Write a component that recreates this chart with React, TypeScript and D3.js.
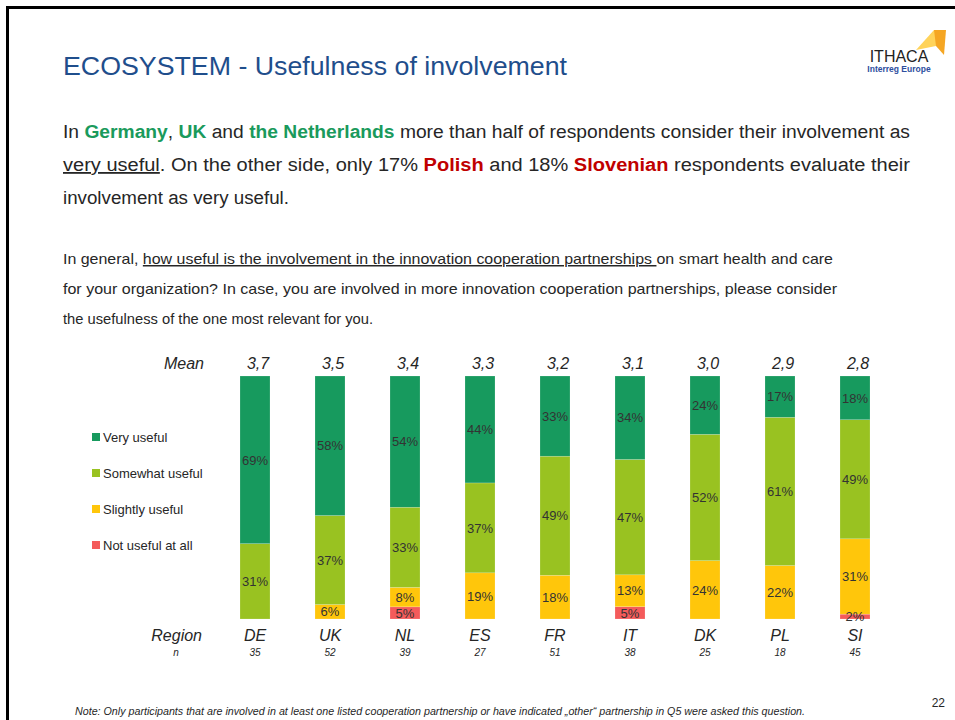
import * as d3 from "d3";

const regions = ["DE", "UK", "NL", "ES", "FR", "IT", "DK", "PL", "SI"];
const nValues = [35, 52, 39, 27, 51, 38, 25, 18, 45];
const means = ["3,7", "3,5", "3,4", "3,3", "3,2", "3,1", "3,0", "2,9", "2,8"];

const categories = ["Not useful at all", "Slightly useful", "Somewhat useful", "Very useful"];
const notUseful = [0, 0, 5, 0, 0, 5, 0, 0, 2];
const slightlyUseful = [0, 6, 8, 19, 18, 13, 24, 22, 31];
const somewhatUseful = [31, 37, 33, 37, 49, 47, 52, 61, 49];
const veryUseful = [69, 58, 54, 44, 33, 34, 24, 17, 18];

const colors = ["#F45B5B", "#FFC60B", "#99C221", "#179A5E"];

const sans = "'Liberation Sans', Arial, sans-serif";
const narrow = "'Liberation Sans Narrow', 'Liberation Sans', Arial, sans-serif";
const green = "#1A9A5C";
const red = "#C00000";
const textCol = "#262626";

export default function App() {
  const rows = regions.map((r, i) => ({
    region: r,
    [categories[0]]: notUseful[i],
    [categories[1]]: slightlyUseful[i],
    [categories[2]]: somewhatUseful[i],
    [categories[3]]: veryUseful[i],
  }));

  const stack = d3
    .stack<any>()
    .keys(categories)
    .offset(d3.stackOffsetExpand);
  const series = stack(rows);

  const x = d3
    .scaleBand()
    .domain(regions)
    .range([217.5, 892.5])
    .paddingInner(0.6)
    .paddingOuter(0.3);
  const y = d3.scaleLinear().domain([0, 1]).range([619, 376]);
  const color = d3.scaleOrdinal<string>().domain(categories).range(colors);

  const legendItems = categories.slice().reverse();

  return (
    <svg
      width={955}
      height={720}
      style={{ position: "absolute", left: 0, top: 0, background: "#fff" }}
    >
      {/* slide frame */}
      <line x1={7} y1={7.5} x2={955} y2={7.5} stroke="#000" strokeWidth={3} />
      <line x1={7.5} y1={6} x2={7.5} y2={720} stroke="#000" strokeWidth={3} />

      {/* title */}
      <text x={63} y={75} fontFamily={sans} fontSize={26} fill="#1F4E8C" textLength={504} lengthAdjust="spacingAndGlyphs">
        ECOSYSTEM - Usefulness of involvement
      </text>

      {/* logo */}
      <polygon points="916,50 934,30 944,31 936,46" fill="#FFD35A" />
      <polygon points="934,30 946,30 944,55 936,46" fill="#F5A623" />
      <text x={899} y={62} textAnchor="middle" fontFamily={sans} fontSize={16} fill="#222">
        ITHACA
      </text>
      <text x={899} y={72} textAnchor="middle" fontFamily={sans} fontSize={8.5} fontWeight="bold" fill="#2E4E9E">
        Interreg Europe
      </text>

      {/* paragraph 1 */}
      <g fontFamily={narrow} fontSize={18} fill={textCol}>
        <text x={63} y={138} textLength={847} lengthAdjust="spacingAndGlyphs">
          In <tspan fill={green} fontWeight="bold">Germany</tspan>,{" "}
          <tspan fill={green} fontWeight="bold">UK</tspan> and{" "}
          <tspan fill={green} fontWeight="bold">the Netherlands</tspan> more than half of respondents consider their involvement as
        </text>
        <text x={63} y={171} textLength={847} lengthAdjust="spacingAndGlyphs">
          <tspan textDecoration="underline">very useful</tspan>. On the other side, only 17%{" "}
          <tspan fill={red} fontWeight="bold">Polish</tspan> and 18%{" "}
          <tspan fill={red} fontWeight="bold">Slovenian</tspan> respondents evaluate their
        </text>
        <text x={63} y={204} textLength={226} lengthAdjust="spacingAndGlyphs">
          involvement as very useful.
        </text>
      </g>

      {/* paragraph 2 */}
      <g fontFamily={narrow} fontSize={15} fill={textCol}>
        <text x={63} y={264} textLength={770} lengthAdjust="spacingAndGlyphs">
          In general, <tspan textDecoration="underline">how useful is the involvement in the innovation cooperation partnerships </tspan>on smart health and care
        </text>
        <text x={63} y={294} textLength={774} lengthAdjust="spacingAndGlyphs">
          for your organization? In case, you are involved in more innovation cooperation partnerships, please consider
        </text>
        <text x={63} y={324} textLength={310} lengthAdjust="spacingAndGlyphs">
          the usefulness of the one most relevant for you.
        </text>
      </g>

      {/* bars */}
      {series.map((s) => (
        <g key={s.key} fill={color(s.key)}>
          {s.map((d, i) => (
            <rect
              key={i}
              x={x(regions[i])}
              y={y(d[1])}
              width={x.bandwidth()}
              height={Math.max(0, y(d[0]) - y(d[1]))}
              stroke="#fff"
              strokeOpacity={0.35}
              strokeWidth={0.5}
            />
          ))}
        </g>
      ))}

      {/* segment labels */}
      {series.map((s) =>
        s.map((d, i) => {
          const v = (d.data as any)[s.key] as number;
          if (!v) return null;
          return (
            <text
              key={s.key + i}
              x={x(regions[i])! + x.bandwidth() / 2}
              y={(y(d[0]) + y(d[1])) / 2}
              dy="0.36em"
              textAnchor="middle"
              fontFamily={sans}
              fontSize={13}
              fill="#333"
            >
              {v}%
            </text>
          );
        })
      )}

      {/* mean row */}
      <g fontFamily={sans} fontStyle="italic" fontSize={16} fill={textCol}>
        <text x={204} y={369} textAnchor="end">Mean</text>
        {means.map((m, i) => (
          <text key={i} x={x(regions[i])! + x.bandwidth() / 2 + 3} y={369} textAnchor="middle">
            {m}
          </text>
        ))}
      </g>

      {/* region row */}
      <g fontFamily={sans} fontStyle="italic" fontSize={16} fill={textCol}>
        <text x={202} y={641} textAnchor="end">Region</text>
        {regions.map((r) => (
          <text key={r} x={x(r)! + x.bandwidth() / 2} y={641} textAnchor="middle">
            {r}
          </text>
        ))}
      </g>
      <g fontFamily={narrow} fontStyle="italic" fontSize={10} fill={textCol}>
        <text x={176} y={656} textAnchor="middle">n</text>
        {nValues.map((n, i) => (
          <text key={i} x={x(regions[i])! + x.bandwidth() / 2} y={656} textAnchor="middle">
            {n}
          </text>
        ))}
      </g>

      {/* legend */}
      {legendItems.map((c, i) => (
        <g key={c} transform={`translate(92, ${437 + i * 36})`}>
          <rect x={0} y={-4} width={8} height={8} fill={color(c)} />
          <text x={11} y={0} dy="0.35em" fontFamily={sans} fontSize={13} fill={textCol}>
            {c}
          </text>
        </g>
      ))}

      {/* footer */}
      <text x={75} y={715} fontFamily={narrow} fontStyle="italic" fontSize={10} fill={textCol} textLength={730} lengthAdjust="spacingAndGlyphs">
        Note: Only participants that are involved in at least one listed cooperation partnership or have indicated „other“ partnership in Q5 were asked this question.
      </text>
      <text x={945} y={707} textAnchor="end" fontFamily={narrow} fontSize={12} fill={textCol}>
        22
      </text>
    </svg>
  );
}
